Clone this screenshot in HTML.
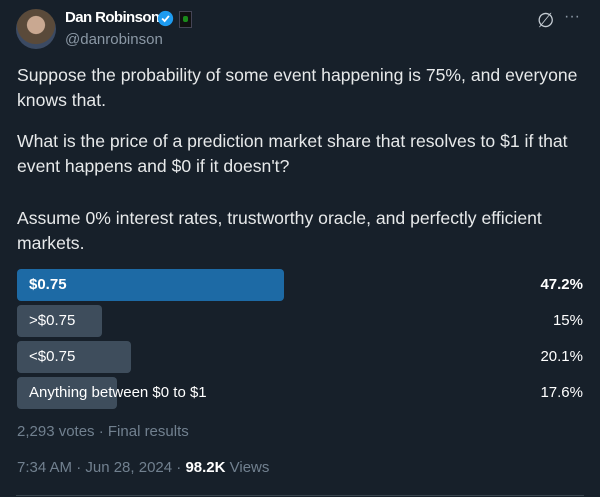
<!DOCTYPE html>
<html><head><meta charset="utf-8"><style>
body{margin:0;width:600px;height:497px;background:#17202a;font-family:"Liberation Sans",sans-serif;color:#e7e9ea;overflow:hidden;position:relative}
.a{position:absolute}
.t{font-size:17.6px;line-height:25px;left:17px;width:575px}
.bar{position:absolute;left:17px;height:32px;border-radius:4px;background:#3e4d5c}
.lbl{position:absolute;left:29px;font-size:15px;line-height:32px;color:#fff}
.pct{position:absolute;right:17px;font-size:15px;line-height:32px;color:#fff}
</style></head><body>
<div class="a" style="left:16px;top:9px;width:40px;height:40px;border-radius:50%;background:radial-gradient(circle at 50% 40%,#c9a891 0 28%,#5a4a3a 30% 60%,#3b4a63 62%)"></div>
<div class="a" style="left:65px;top:9px;font-size:15px;font-weight:bold;color:#fff;letter-spacing:-0.6px">Dan Robinson</div>
<svg class="a" style="left:157px;top:10px" width="17" height="17" viewBox="0 0 20 20"><circle cx="10" cy="10" r="9" fill="#1d9bf0"/><path d="M6 10l3 3 5-6" stroke="#fff" stroke-width="2.2" fill="none"/></svg>
<div class="a" style="left:179px;top:11px;width:11px;height:15px;background:#111;border:1px solid #445"><div style="margin:4px 3px;width:5px;height:6px;background:#1a8a1a;border-radius:2px"></div></div>
<div class="a" style="left:65px;top:31px;font-size:15px;color:#8b98a5">@danrobinson</div>
<div class="a" style="left:537px;top:8px;font-size:20px;color:#c5ccd3">∅</div>
<div class="a" style="left:564px;top:8px;font-size:16px;color:#8b98a5">···</div>
<div class="a t" style="top:63px">Suppose the probability of some event happening is 75%, and everyone knows that.</div>
<div class="a t" style="top:129px">What is the price of a prediction market share that resolves to $1 if that event happens and $0 if it doesn't?</div>
<div class="a t" style="top:206px">Assume 0% interest rates, trustworthy oracle, and perfectly efficient markets.</div>
<div id="poll"></div>
<div class="a" style="left:17px;top:423px;font-size:15px;color:#71808f">2,293 votes · Final results</div>
<div class="a" style="left:17px;top:459px;font-size:15px;color:#71808f">7:34 AM · Jun 28, 2024 · <b style="color:#fff">98.2K</b> Views</div>
<div class="a" style="left:16px;top:495px;width:568px;height:1px;background:#38444d"></div>
<script>
const options=["$0.75",">$0.75","<$0.75","Anything between $0 to $1"];
const percents=[47.2,15,20.1,17.6];
const labels=["47.2%","15%","20.1%","17.6%"];
const poll=document.getElementById('poll');
const maxW=566;
options.forEach((o,i)=>{
  const top=269+i*36;
  const b=document.createElement('div');
  b.className='bar';
  
  
  b.style.top=top+'px';b.style.width=(percents[i]/100*maxW)+'px';
  if(i===0)b.style.background='#1d6aa5';
  poll.appendChild(b);
  const l=document.createElement('div');
  l.className='lbl';
  
  
  l.style.top=top+'px';l.textContent=o;
  if(i===0)l.style.fontWeight='bold';
  poll.appendChild(l);
  const p=document.createElement('div');
  p.className='pct';
  
  
  p.style.top=top+'px';p.textContent=labels[i];
  if(i===0)p.style.fontWeight='bold';
  poll.appendChild(p);
});
</script>
</body></html>
